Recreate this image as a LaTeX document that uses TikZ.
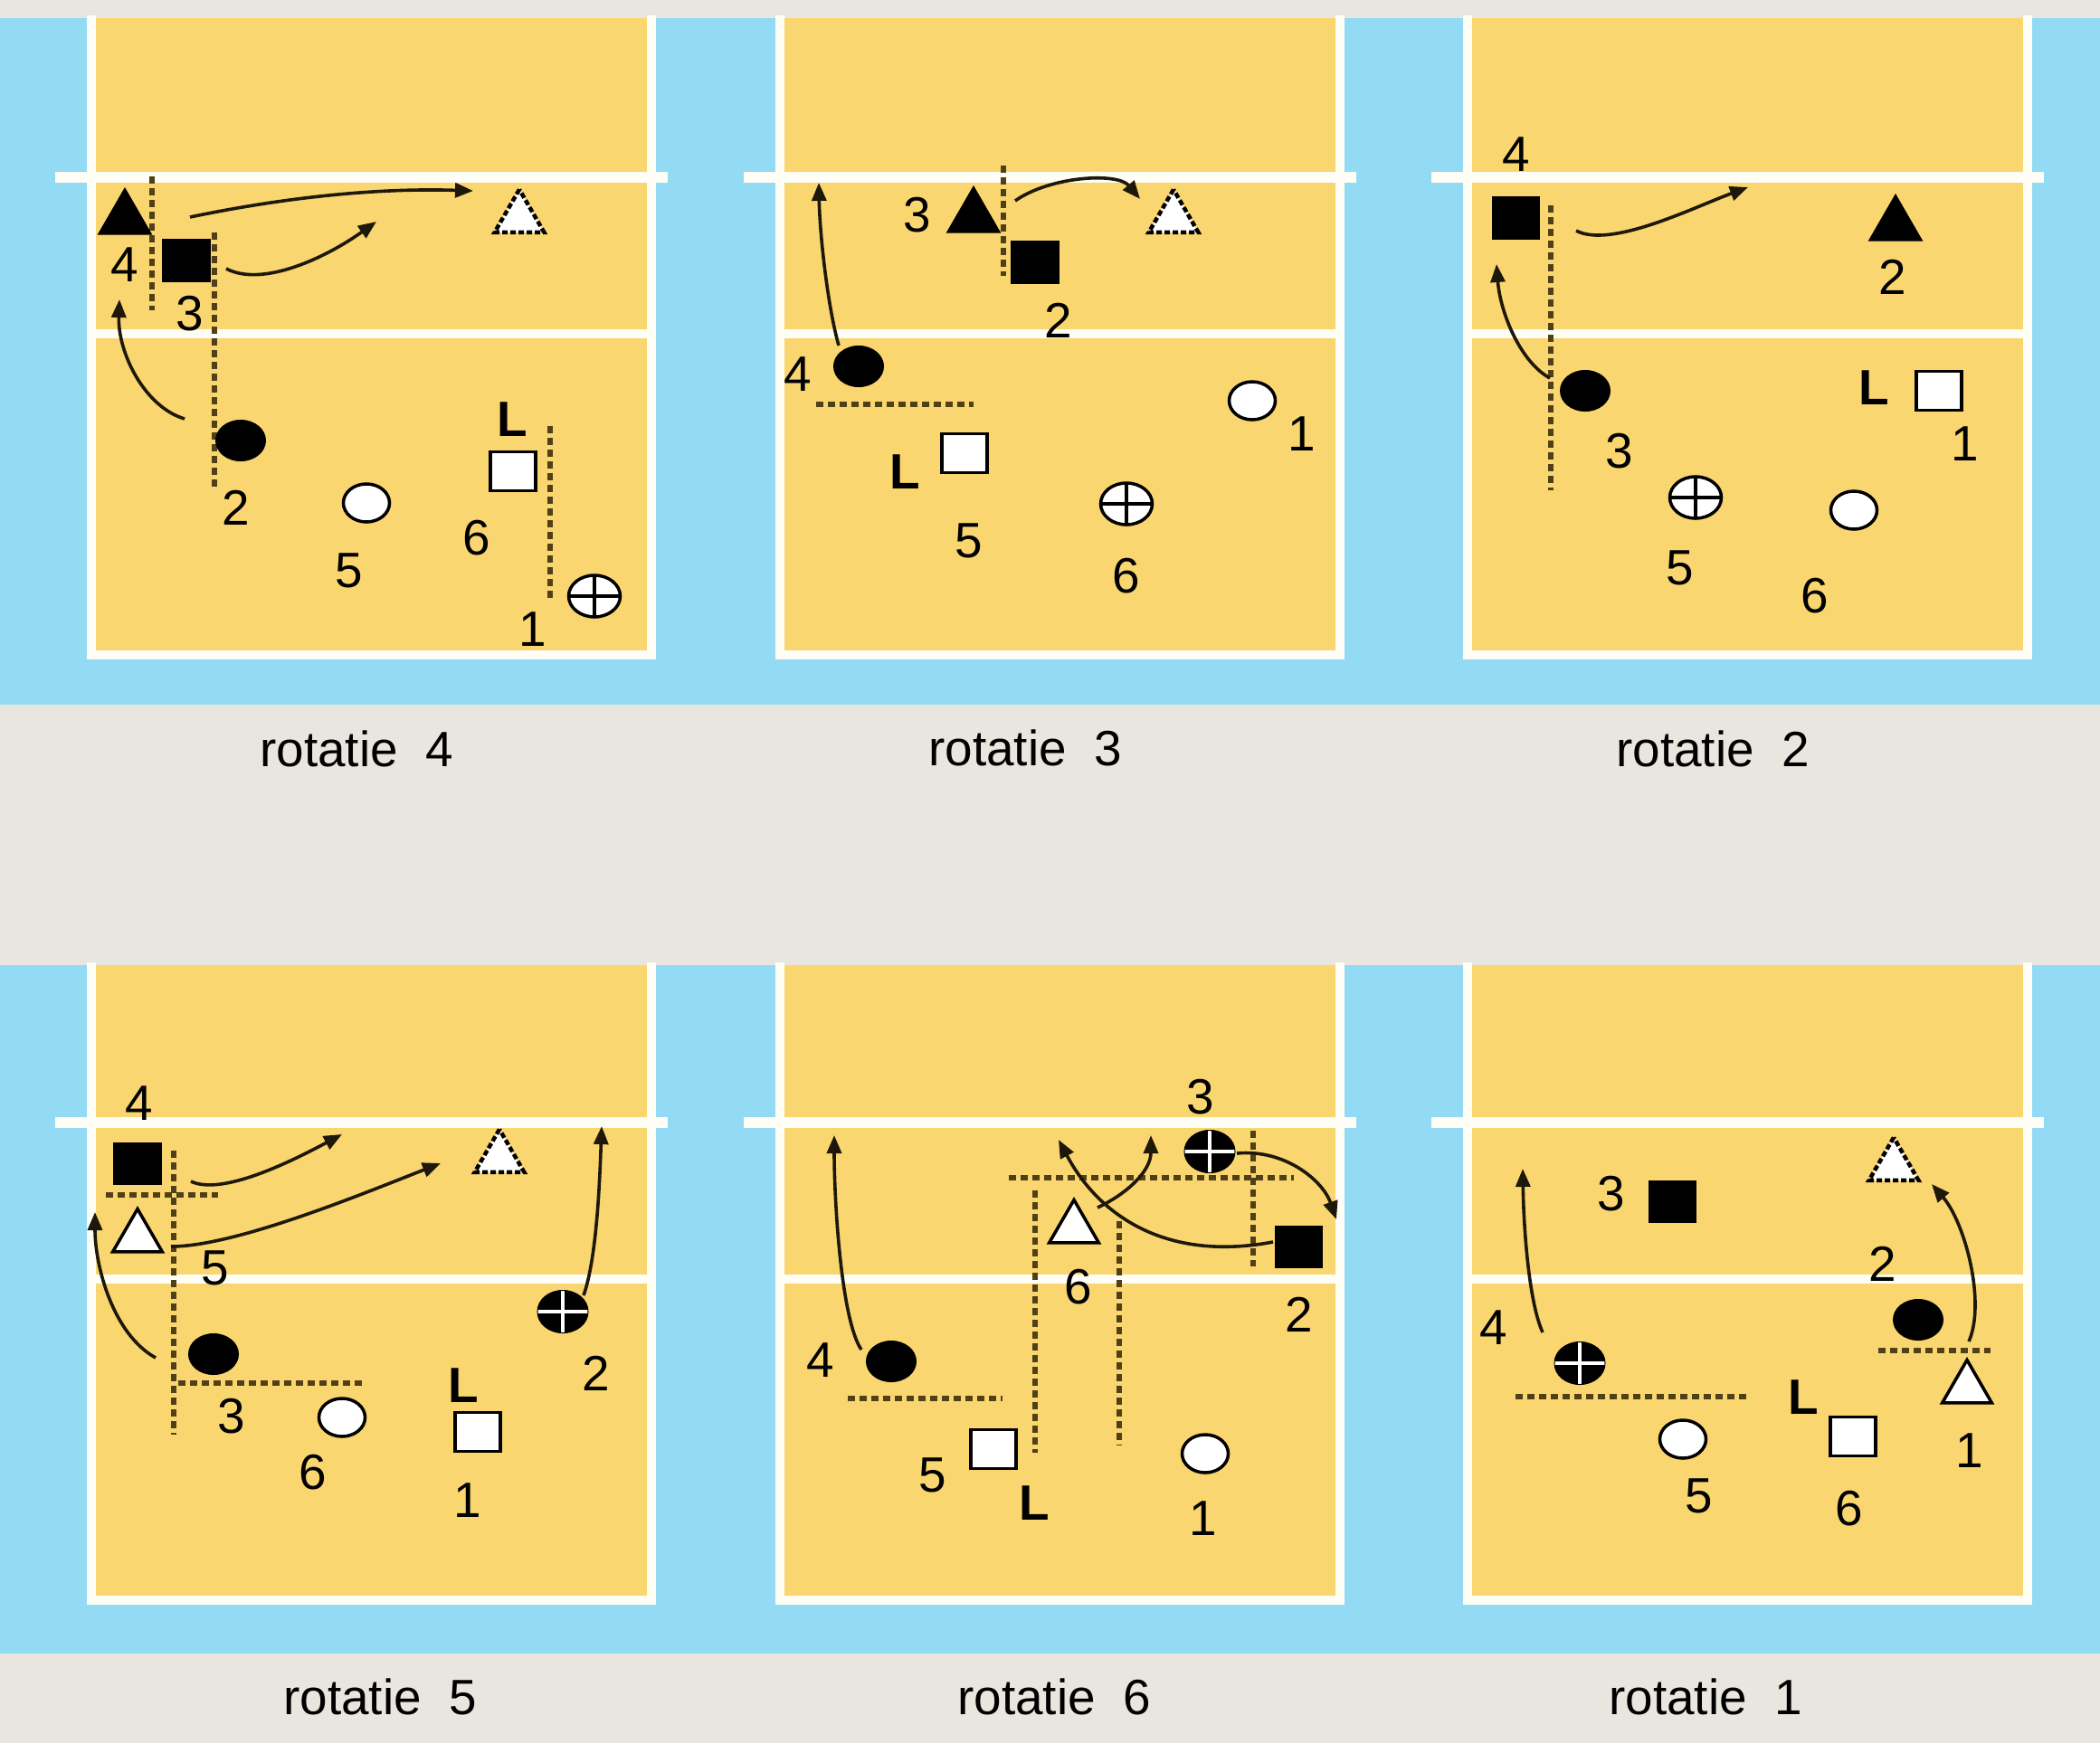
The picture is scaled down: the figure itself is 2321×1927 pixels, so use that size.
\documentclass[tikz,border=0pt]{standalone}
\usepackage{fontspec}
\setmainfont{Liberation Sans}
\usetikzlibrary{shapes.geometric,arrows.meta}
\newcommand\myfont{\fontsize{15.6pt}{18pt}\selectfont}
\definecolor{bgc}{RGB}{232,230,222}
\definecolor{bluec}{RGB}{147,218,244}
\definecolor{courtc}{RGB}{250,214,112}
\definecolor{linec}{RGB}{254,253,246}
\definecolor{dotc}{RGB}{80,64,24}
\definecolor{arrc}{RGB}{30,24,10}
\tikzset{
 blksq/.style={rectangle, fill=black, minimum width=0.53cm, minimum height=0.47cm, inner sep=0pt},
 whsq/.style={rectangle, fill=white, draw=black, line width=0.035cm, minimum width=0.5cm, minimum height=0.43cm, inner sep=0pt},
 blkel/.style={ellipse, fill=black, minimum width=0.56cm, minimum height=0.46cm, inner sep=0pt},
 whel/.style={ellipse, fill=white, draw=black, line width=0.035cm, minimum width=0.51cm, minimum height=0.42cm, inner sep=0pt},
 crw/.style={ellipse, fill=white, draw=black, line width=0.035cm, minimum width=0.57cm, minimum height=0.46cm, inner sep=0pt,
   path picture={\draw[black, line width=0.032cm] (path picture bounding box.north) -- (path picture bounding box.south) (path picture bounding box.west) -- (path picture bounding box.east);}},
 crb/.style={ellipse, fill=black, draw=black, line width=0.01cm, minimum width=0.56cm, minimum height=0.47cm, inner sep=0pt,
   path picture={\draw[white, line width=0.032cm] (path picture bounding box.north) -- (path picture bounding box.south) (path picture bounding box.west) -- (path picture bounding box.east);}},
 blktri/.style={regular polygon, regular polygon sides=3, fill=black, minimum size=0.70cm, inner sep=0pt},
 whtri/.style={regular polygon, regular polygon sides=3, fill=white, draw=black, line width=0.035cm, minimum size=0.63cm, inner sep=0pt},
 tgttri/.style={whtri, line width=0.045cm, dash pattern=on 0.06cm off 0.03cm},
 num/.style={inner sep=0pt, font=\myfont, text=black},
 bl/.style={inner sep=0pt, font=\myfont\bfseries, text=black},
 dots/.style={draw=dotc, line width=0.055cm, dash pattern=on 0.08cm off 0.05cm},
 mv/.style={draw=arrc, line width=0.036cm, -{Triangle[length=0.2cm,width=0.16cm]}},
 wl/.style={draw=linec, line width=0.1cm},
}
\begin{document}
\begin{tikzpicture}[x=0.01cm,y=-0.01cm]
\useasboundingbox (0,0) rectangle (2321,1927);
\fill[bgc] (0,0) rectangle (2321,1927);
% bands and courts
\foreach \oy/\bt/\bb in {0/20/779,1045/1067/1828}{
  \fill[bluec] (0,\bt) rectangle (2321,\bb);
  \foreach \cx in {101,862,1622}{
    \fill[courtc] (\cx,\bt) rectangle ({\cx+619},{724+\oy});
    \draw[wl] (\cx,{\bt-3}) -- (\cx,{729+\oy});
    \draw[wl] ({\cx+619},{\bt-3}) -- ({\cx+619},{729+\oy});
    \draw[wl] ({\cx-5},{724+\oy}) -- ({\cx+624},{724+\oy});
    \draw[wl] (\cx,{369+\oy}) -- ({\cx+619},{369+\oy});
    \draw[wl, line width=0.12cm] ({\cx-40},{196+\oy}) -- ({\cx+637},{196+\oy});
  }
}
% captions
\node[num] (r4) at (394,828) {rotatie~~4};
\node[num] (r3) at (1133,827) {rotatie~~3};
\node[num] (r2) at (1893,828) {rotatie~~2};
\node[num] (r5) at (420,1876) {rotatie~~5};
\node[num] (r6) at (1165,1876) {rotatie~~6};
\node[num] (r1) at (1885,1876) {rotatie~~1};

% ---------- dotted lines ----------
\draw[dots] (168,195) -- (168,343);
\draw[dots] (237,257) -- (237,539);
\draw[dots] (608,471) -- (608,662);
\draw[dots] (1109,183) -- (1109,305);
\draw[dots] (902,447) -- (1076,447);
\draw[dots] (1714,227) -- (1714,542);
\draw[dots] (117,1321) -- (241,1321);
\draw[dots] (192,1272) -- (192,1586);
\draw[dots] (197,1529) -- (403,1529);
\draw[dots] (937,1546) -- (1108,1546);
\draw[dots] (1144,1316) -- (1144,1606);
\draw[dots] (1115,1302) -- (1430,1302);
\draw[dots] (1237,1350) -- (1237,1598);
\draw[dots] (1385,1250) -- (1385,1400);
\draw[dots] (1675,1544) -- (1933,1544);
\draw[dots] (2076,1493) -- (2200,1493);

% ---------- rotatie 4 ----------
\node[blktri] (p1t4) at (138,242) {};
\node[num] (p1n4) at (138,293) {4};
\node[blksq] (p1sq3) at (206,288) {};
\node[num] (p1n3) at (210,347) {3};
\node[blkel] (p1el2) at (266,487) {};
\node[num] (p1n2) at (261,561) {2};
\node[whel] (p1el5) at (405,556) {};
\node[num] (p1n5) at (386,631) {5};
\node[bl] (p1L) at (566,464) {L};
\node[whsq] (p1sq6) at (567,521) {};
\node[num] (p1n6) at (527,595) {6};
\node[crw] (p1cr1) at (657,659) {};
\node[num] (p1n1) at (589,696) {1};
\node[tgttri] (p1tg) at (574,241) {};
\coordinate (p1ea) at (523,211);
\coordinate (p1eb) at (416,245);
\coordinate (p1ec) at (132,331);
\draw[mv] ([shift={(72,-2)}]p1t4.center) .. controls (330,215) and (430,208) .. (p1ea);
\draw[mv] ([shift={(44,9)}]p1sq3.center) .. controls (290,318) and (360,285) .. (p1eb);
\draw[mv] ([shift={(-62,-24)}]p1el2.center) .. controls (160,450) and (130,390) .. (p1ec);

% ---------- rotatie 3 ----------
\node[blktri] (p2t3) at (1076,240) {};
\node[num] (p2n3) at (1014,238) {3};
\node[blksq] (p2sq2) at (1144,290) {};
\node[num] (p2n2) at (1170,354) {2};
\node[tgttri] (p2tg) at (1297,241) {};
\node[blkel] (p2el4) at (949,405) {};
\node[num] (p2n4) at (882,414) {4};
\node[whsq] (p2sq5) at (1066,501) {};
\node[bl] (p2L) at (1000,522) {L};
\node[num] (p2n5) at (1071,598) {5};
\node[crw] (p2cr6) at (1245,557) {};
\node[num] (p2n6) at (1245,637) {6};
\node[whel] (p2el1) at (1384,443) {};
\node[num] (p2n1) at (1439,480) {1};
\coordinate (p2ea) at (1260,220);
\coordinate (p2eb) at (905,202);
\draw[mv] ([shift={(46,-18)}]p2t3.center) .. controls (1160,195) and (1235,190) .. (p2ea);
\draw[mv] ([shift={(-22,-23)}]p2el4.center) .. controls (915,340) and (906,260) .. (p2eb);

% ---------- rotatie 2 ----------
\node[num] (p3n4) at (1676,171) {4};
\node[blksq] (p3sq4) at (1675,241) {};
\node[blktri] (p3t2) at (2095,249) {};
\node[num] (p3n2) at (2092,306) {2};
\node[blkel] (p3el3) at (1752,432) {};
\node[num] (p3n3) at (1790,499) {3};
\node[crw] (p3cr5) at (1874,550) {};
\node[num] (p3n5) at (1857,628) {5};
\node[whel] (p3el6) at (2049,564) {};
\node[num] (p3n6) at (2006,659) {6};
\node[bl] (p3L) at (2071,429) {L};
\node[whsq] (p3sq1) at (2143,432) {};
\node[num] (p3n1) at (2172,491) {1};
\coordinate (p3ea) at (1932,207);
\coordinate (p3eb) at (1654,292);
\draw[mv] ([shift={(67,14)}]p3sq4.center) .. controls (1780,275) and (1870,230) .. (p3ea);
\draw[mv] ([shift={(-39,-14)}]p3el3.center) .. controls (1680,400) and (1658,345) .. (p3eb);

% ---------- rotatie 5 ----------
\node[num] (p4n4) at (154,1220) {4};
\node[blksq] (p4sq4) at (152,1286) {};
\node[whtri] (p4t5) at (152,1368) {};
\node[num] (p4n5) at (238,1402) {5};
\node[tgttri] (p4tg) at (552,1280) {};
\node[crb] (p4cr2) at (622,1450) {};
\node[num] (p4n2) at (659,1518) {2};
\node[blkel] (p4el3) at (236,1497) {};
\node[num] (p4n3) at (256,1566) {3};
\node[whel] (p4el6) at (378,1567) {};
\node[num] (p4n6) at (346,1628) {6};
\node[bl] (p4L) at (512,1532) {L};
\node[whsq] (p4sq1) at (528,1583) {};
\node[num] (p4n1) at (517,1659) {1};
\coordinate (p4ea) at (378,1254);
\coordinate (p4eb) at (487,1286);
\coordinate (p4ec) at (665,1245);
\coordinate (p4ed) at (105,1340);
\draw[mv] ([shift={(59,20)}]p4sq4.center) .. controls (245,1322) and (320,1285) .. (p4ea);
\draw[mv] ([shift={(37,10)}]p4t5.center) .. controls (260,1378) and (400,1320) .. (p4eb);
\draw[mv] ([shift={(23,-18)}]p4cr2.center) .. controls (660,1390) and (663,1300) .. (p4ec);
\draw[mv] ([shift={(-64,4)}]p4el3.center) .. controls (125,1475) and (105,1400) .. (p4ed);

% ---------- rotatie 6 ----------
\node[blkel] (p5el4) at (985,1505) {};
\node[num] (p5n4) at (907,1504) {4};
\node[whsq] (p5sq5) at (1098,1602) {};
\node[num] (p5n5) at (1031,1631) {5};
\node[bl] (p5L) at (1143,1662) {L};
\node[whtri] (p5t6) at (1187,1358) {};
\node[num] (p5n6) at (1192,1423) {6};
\node[crb] (p5cr3) at (1337,1273) {};
\node[num] (p5n3) at (1327,1213) {3};
\node[blksq] (p5sq2) at (1435,1378) {};
\node[num] (p5n2) at (1436,1453) {2};
\node[whel] (p5el1) at (1332,1607) {};
\node[num] (p5n1) at (1330,1679) {1};
\coordinate (p5ea) at (922,1255);
\coordinate (p5eb) at (1477,1348);
\coordinate (p5ec) at (1170,1260);
\coordinate (p5ed) at (1272,1255);
\draw[mv] ([shift={(-33,-13)}]p5el4.center) .. controls (930,1460) and (922,1330) .. (p5ea);
\draw[mv] ([shift={(30,2)}]p5cr3.center) .. controls (1420,1270) and (1462,1305) .. (p5eb);
\draw[mv] ([shift={(-28,-5)}]p5sq2.center) .. controls (1290,1395) and (1215,1345) .. (p5ec);
\draw[mv] ([shift={(26,-23)}]p5t6.center) .. controls (1245,1320) and (1272,1295) .. (p5ed);

% ---------- rotatie 1 ----------
\node[tgttri] (p6tg) at (2093,1289) {};
\node[blksq] (p6sq3) at (1848,1328) {};
\node[num] (p6n3) at (1781,1320) {3};
\node[crb] (p6cr4) at (1746,1507) {};
\node[num] (p6n4) at (1651,1468) {4};
\node[whel] (p6el5) at (1860,1591) {};
\node[num] (p6n5) at (1878,1654) {5};
\node[bl] (p6L) at (1993,1545) {L};
\node[whsq] (p6sq6) at (2048,1588) {};
\node[num] (p6n6) at (2044,1668) {6};
\node[num] (p6n2) at (2081,1397) {2};
\node[blkel] (p6el2) at (2120,1459) {};
\node[whtri] (p6t1) at (2174,1535) {};
\node[num] (p6n1) at (2177,1604) {1};
\coordinate (p6ea) at (1683,1292);
\coordinate (p6eb) at (2135,1309);
\draw[mv] ([shift={(-41,-34)}]p6cr4.center) .. controls (1690,1440) and (1684,1360) .. (p6ea);
\draw[mv] ([shift={(2,-52)}]p6t1.center) .. controls (2195,1440) and (2172,1352) .. (p6eb);
\end{tikzpicture}
\end{document}
